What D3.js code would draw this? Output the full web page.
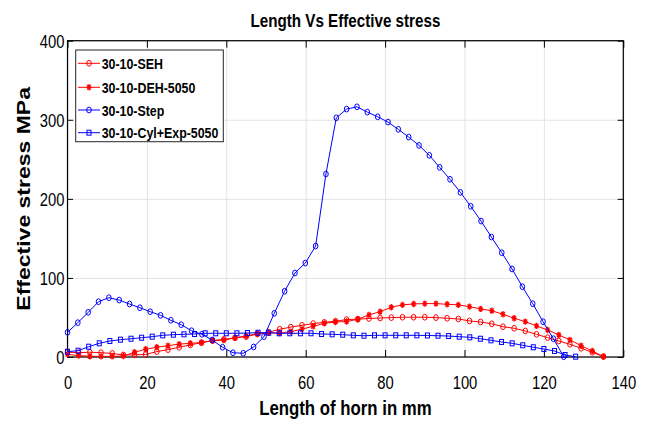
<!DOCTYPE html>
<html>
<head>
<meta charset="utf-8">
<script src="https://cdn.jsdelivr.net/npm/d3@7"></script>
<style>
  html, body { margin: 0; padding: 0; background: #fff; }
  svg { display: block; font-family: "Liberation Sans", Arial, Helvetica, sans-serif; }
</style>
</head>
<body>
<svg id="chart" width="649" height="425"></svg>
<script>
// ---- data -------------------------------------------------------------
const xTicks = [0, 20, 40, 60, 80, 100, 120, 140];
const yTicks = [0, 100, 200, 300, 400];
const seriesNames = ["30-10-SEH", "30-10-DEH-5050", "30-10-Step", "30-10-Cyl+Exp-5050"];

// positions along the horn (mm) for the two red profiles
const redX = [0, 2.81, 5.63, 8.44, 11.25, 14.06, 16.88, 19.69, 22.5, 25.31, 28.13, 30.94, 33.75,
  36.56, 39.38, 42.19, 45, 47.81, 50.63, 53.44, 56.25, 59.06, 61.88, 64.69, 67.5, 70.31, 73.13,
  75.94, 78.75, 81.56, 84.38, 87.19, 90, 92.81, 95.63, 98.44, 101.25, 104.06, 106.88, 109.69,
  112.5, 115.31, 118.13, 120.94, 123.75, 126.56, 129.38, 132.19, 135];
const sehY = [6, 5.5, 6, 5.5, 4.5, 2.6, 2.6, 3.3, 6.8, 9.3, 12.3, 15.3, 18.1, 20.7, 22.3, 24.3,
  25.7, 29.1, 31.3, 35.1, 37.8, 40.1, 42.3, 43.8, 45.3, 47.3, 47.9, 48.7, 49.3, 49.8, 50.3, 50.3,
  50.3, 49.8, 49, 48.1, 45.6, 44.3, 42, 38.3, 36.3, 32.9, 28.7, 24.5, 20.3, 16.1, 11, 6, 0.5];
const dehY = [3.3, 1.7, 1, 0.8, 0.8, 1.2, 6, 9.8, 12.3, 14.3, 16.3, 17.3, 18.3, 20.8, 21.3, 24.3,
  26.6, 29.5, 30.5, 30.3, 32.1, 35.3, 38.8, 42.5, 44.3, 44.8, 47.7, 53.3, 57.3, 62.9, 65.9, 67.1,
  67.5, 67.5, 66.7, 65.9, 63.7, 60.8, 58.5, 54, 49, 44.7, 39.3, 34.2, 27.9, 21.6, 14.3, 7.6, 0.5];

const stepX = [0, 2.6, 5.21, 7.81, 10.42, 13.02, 15.63, 18.23, 20.83, 23.44, 26.04, 28.65, 31.25,
  33.85, 36.46, 39.06, 41.67, 44.27, 46.88, 49.48, 52.08, 54.69, 57.29, 59.9, 62.5, 65.1, 67.71,
  70.31, 72.92, 75.52, 78.13, 80.73, 83.33, 85.94, 88.54, 91.15, 93.75, 96.35, 98.96, 101.56,
  104.17, 106.77, 109.38, 111.98, 114.58, 117.19, 119.79, 122.4, 125];
const stepY = [31.2, 43.4, 56.5, 69.9, 75, 72, 67, 62.3, 57.3, 52.7, 46.4, 40.8, 33.2, 28.7, 21.5,
  12.3, 5.4, 4.7, 12.7, 25.7, 55.2, 83.2, 106.2, 118.8, 140.3, 231.4, 302.5, 313.5, 316.4, 309.7,
  303.8, 297.1, 287.9, 278.1, 267.6, 255, 239.8, 224.7, 208.2, 190.6, 171.9, 151.7, 131.9, 111.3,
  88.9, 67.4, 44.6, 23.1, 0.4];

const cylX = [0, 2.67, 5.33, 8, 10.67, 13.33, 16, 18.67, 21.33, 24, 26.67, 29.33, 32, 34.67, 37.33,
  40, 42.67, 45.33, 48, 50.67, 53.33, 56, 58.67, 61.33, 64, 66.67, 69.33, 72, 74.67, 77.33, 80,
  82.67, 85.33, 88, 90.67, 93.33, 96, 98.67, 101.33, 104, 106.67, 109.33, 112, 114.67, 117.33,
  120, 122.67, 125.33, 128];
const cylY = [6.7, 8, 13, 17.3, 20.2, 21.9, 23.1, 24.4, 25.7, 27.4, 28.2, 28.7, 29.1, 30, 30, 30,
  30, 30.3, 30.7, 30.7, 30, 30, 30, 30, 29.1, 28.7, 28.2, 27.4, 26.9, 27.4, 27.4, 27.4, 27.4, 27.4,
  27.2, 26.9, 26.5, 25.7, 24.9, 23.1, 21.1, 19, 17.3, 14.8, 12.3, 10.1, 7.6, 2.5, 0.4];

// ---- layout -----------------------------------------------------------
const SX = 0.8;                       // horizontal glyph compression
const plot = { left: 67.5, right: 623.3, top: 40.7, bottom: 357 };
const svg = d3.select("#chart");
svg.append("rect").attr("width", 649).attr("height", 425).attr("fill", "#fff");

const x = d3.scaleLinear().domain([0, 140]).range([plot.left, plot.right]);
const y = d3.scaleLinear().domain([0, 400]).range([plot.bottom, plot.top]);

// grid
svg.append("g")
  .attr("transform", `translate(0,${plot.bottom})`)
  .call(d3.axisBottom(x).tickValues(xTicks).tickSize(-(plot.bottom - plot.top)).tickFormat(""))
  .call(g => g.select(".domain").remove())
  .selectAll("line").attr("stroke", "#e3e3e3").attr("stroke-width", 1);
svg.append("g")
  .attr("transform", `translate(${plot.left},0)`)
  .call(d3.axisLeft(y).tickValues(yTicks).tickSize(-(plot.right - plot.left)).tickFormat(""))
  .call(g => g.select(".domain").remove())
  .selectAll("line").attr("stroke", "#e3e3e3").attr("stroke-width", 1);

// frame
svg.append("rect")
  .attr("x", plot.left).attr("y", plot.top)
  .attr("width", plot.right - plot.left).attr("height", plot.bottom - plot.top)
  .attr("fill", "none").attr("stroke", "#000").attr("stroke-width", 1.2);

// inward ticks on all four sides
function styleAxis(g) {
  g.select(".domain").remove();
  g.attr("font-family", null).attr("font-size", null);
  g.selectAll(".tick line").attr("stroke", "#000").attr("stroke-width", 1);
}
const gx = svg.append("g").attr("transform", `translate(0,${plot.bottom})`)
  .call(d3.axisBottom(x).tickValues(xTicks).tickSize(-7).tickFormat(d3.format("d")))
  .call(styleAxis);
gx.selectAll(".tick text")
  .attr("y", null).attr("dy", null)
  .attr("transform", `translate(0,32) scale(${SX},1)`)
  .attr("font-size", 18.5).attr("fill", "#000");

const gy = svg.append("g").attr("transform", `translate(${plot.left},0)`)
  .call(d3.axisLeft(y).tickValues(yTicks).tickSize(-5.6).tickFormat(d3.format("d")))
  .call(styleAxis);
gy.selectAll(".tick text")
  .attr("x", null).attr("dy", null)
  .attr("text-anchor", "end")
  .attr("transform", `translate(-3,6.7) scale(${SX},1)`)
  .attr("font-size", 18.5).attr("fill", "#000");

svg.append("g").attr("transform", `translate(0,${plot.top})`)
  .call(d3.axisTop(x).tickValues(xTicks).tickSize(-7).tickFormat(""))
  .call(styleAxis);
svg.append("g").attr("transform", `translate(${plot.right},0)`)
  .call(d3.axisRight(y).tickValues(yTicks).tickSize(-5.6).tickFormat(""))
  .call(styleAxis);

// ---- marker shapes ----------------------------------------------------
function drawMarker(g, kind, cx, cy, color) {
  if (kind === "circle") {
    g.append("ellipse").attr("cx", cx).attr("cy", cy).attr("rx", 2.3).attr("ry", 2.9)
      .attr("fill", "none").attr("stroke", color).attr("stroke-width", 1);
  } else if (kind === "square") {
    g.append("rect").attr("x", cx - 2).attr("y", cy - 2.5).attr("width", 4).attr("height", 5)
      .attr("fill", "none").attr("stroke", color).attr("stroke-width", 1);
  } else if (kind === "star") {
    const r = 3.2, rx = r * SX, d = 0.72;
    g.append("path")
      .attr("d", `M${cx - rx},${cy}H${cx + rx}M${cx},${cy - r}V${cy + r}` +
        `M${cx - rx * d},${cy - r * d}L${cx + rx * d},${cy + r * d}` +
        `M${cx - rx * d},${cy + r * d}L${cx + rx * d},${cy - r * d}`)
      .attr("fill", "none").attr("stroke", color).attr("stroke-width", 1.3);
  }
}

const series = [
  { name: seriesNames[0], xs: redX, ys: sehY, color: "#ff0000", marker: "circle" },
  { name: seriesNames[1], xs: redX, ys: dehY, color: "#ff0000", marker: "star" },
  { name: seriesNames[2], xs: stepX, ys: stepY, color: "#0000ff", marker: "circle" },
  { name: seriesNames[3], xs: cylX, ys: cylY, color: "#0000ff", marker: "square" }
];

const line = d3.line().x(d => x(d[0])).y(d => y(d[1]));
series.forEach(s => {
  const pts = s.xs.map((v, i) => [v, s.ys[i]]);
  const g = svg.append("g");
  g.append("path").attr("d", line(pts))
    .attr("fill", "none").attr("stroke", s.color).attr("stroke-width", 1);
  pts.forEach(p => drawMarker(g, s.marker, x(p[0]), y(p[1]), s.color));
});

// ---- titles -----------------------------------------------------------
function label(txt, tx, ty, size, extra) {
  return svg.append("text")
    .attr("transform", `translate(${tx},${ty}) scale(${SX},1)` + (extra || ""))
    .attr("text-anchor", "middle").attr("font-weight", "bold")
    .attr("font-size", size).attr("fill", "#000").text(txt);
}
label("Length Vs Effective stress", (plot.left + plot.right) / 2, 27, 19);
label("Length of horn in mm", (plot.left + plot.right) / 2, 415, 21);
label("Effective stress MPa", 30, (plot.top + plot.bottom) / 2, 23, " rotate(-90)");

// ---- legend -----------------------------------------------------------
const leg = svg.append("g");
leg.append("rect").attr("x", 75.7).attr("y", 50).attr("width", 147.6).attr("height", 91.7)
  .attr("fill", "#fff").attr("stroke", "#262626").attr("stroke-width", 1);
const legRows = [63.3, 87.3, 110, 132.7];
series.forEach((s, i) => {
  const cy = legRows[i];
  leg.append("line").attr("x1", 78).attr("x2", 100).attr("y1", cy).attr("y2", cy)
    .attr("stroke", s.color).attr("stroke-width", 1);
  drawMarker(leg, s.marker, 89, cy, s.color);
  leg.append("text")
    .attr("transform", `translate(101.7,${cy + 5.5}) scale(${SX},1)`)
    .attr("font-weight", "bold").attr("font-size", 15.5).attr("fill", "#000")
    .text(s.name);
});
</script>
</body>
</html>
